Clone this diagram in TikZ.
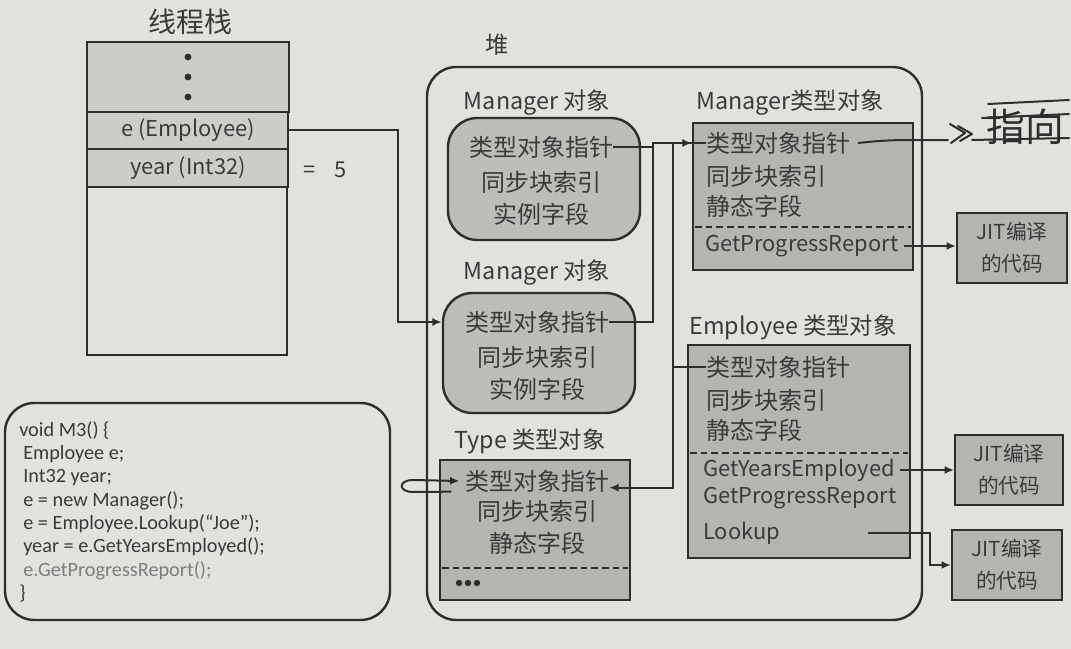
\documentclass[tikz,border=0pt]{standalone}
\usepackage{fontspec}
\setmainfont{Noto Sans CJK SC}
\newfontfamily\codefont{Carlito}
\usetikzlibrary{arrows.meta,fit}
\definecolor{bg}{RGB}{224,226,222}
\definecolor{ink}{RGB}{45,45,45}
\definecolor{txt}{RGB}{58,58,58}
\definecolor{objfill}{RGB}{188,188,185}
\definecolor{typefill}{RGB}{180,180,177}
\definecolor{stackfill}{RGB}{204,205,201}
\definecolor{graytxt}{RGB}{125,125,125}
\begin{document}
\begin{tikzpicture}[x=0.75pt,y=-0.75pt,
  box/.style={draw=ink, line width=1.8pt, inner sep=0pt},
  objbox/.style={box, fill=objfill, rounded corners=22pt},
  typebox/.style={box, fill=typefill},
  cell/.style={font=\fontsize{18}{21}\selectfont, text=txt, inner sep=0pt},
  latcell/.style={font=\fontsize{16.4}{20}\selectfont, text=txt, inner sep=0pt},
  lbl/.style={font=\fontsize{17.5}{21}\selectfont, text=txt, inner sep=0pt},
  jitbox/.style={box, fill=typefill, line width=1.6pt},
  jittext/.style={font=\fontsize{15.5}{24}\selectfont, text=txt, align=center, inner sep=0pt},
  codetext/.style={font=\codefont\fontsize{15.2}{17.5}\selectfont, text=txt, align=left, inner sep=0pt},
  conn/.style={draw=ink, line width=1.5pt},
  arr/.style={conn, -{Latex[length=7pt,width=6pt]}},
  dashsep/.style={draw=ink, line width=1.5pt, dash pattern=on 5pt off 3pt}
]
\fill[bg] (0,0) rectangle (1071,649);
\useasboundingbox (0,0) rectangle (1071,649);

% ---------- thread stack ----------
\node[lbl, font=\fontsize{21}{24}\selectfont] (stitle) at (190,22) {线程栈};
\node[box, fit={(87,187) (287,355)}] (srest) {};
\node[box, fill=stackfill, fit={(87,42) (289,112)}] (sdots) {};
\node[box, fill=stackfill, fit={(87,112) (288,149)}] (ebox) {};
\node[box, fill=stackfill, fit={(87,149) (288,187)}] (ybox) {};
\fill[ink] (188,57) circle[radius=2.6pt] (188,77) circle[radius=2.6pt] (188,97) circle[radius=2.6pt];
\node[latcell] (etxt) at (188,130) {e (Employee)};
\node[latcell] (ytxt) at (188,168) {year (Int32)};
\node[latcell] (yval) at (325,170) {=\hspace{14pt}5};

% ---------- heap ----------
\node[lbl] (htitle) at (497,45) {堆};
\node[box, rounded corners=22pt, fit={(427,67) (922,620)}] (heap) {};

% Manager object 1
\node[lbl] (m1l) at (537,103) {Manager 对象};
\node[objbox, fit={(448,118) (640,240)}] (m1) {};
\node[cell] (m1p) at (541,147) {类型对象指针};
\node[cell] (m1s) at (541,182) {同步块索引};
\node[cell] (m1f) at (541,214) {实例字段};

% Manager object 2
\node[lbl] (m2l) at (537,273) {Manager 对象};
\node[objbox, fit={(443,293) (635,413)}] (m2) {};
\node[cell] (m2p) at (537,322) {类型对象指针};
\node[cell] (m2s) at (537,357) {同步块索引};
\node[cell] (m2f) at (537,389) {实例字段};

% Manager type object
\node[lbl] (mtl) at (790,103) {Manager类型对象};
\node[typebox, fit={(693,123) (913,270)}] (mt) {};
\node[cell, anchor=west] (mtp) at (706,143) {类型对象指针};
\node[cell, anchor=west] (mts) at (706,176) {同步块索引};
\node[cell, anchor=west] (mtf) at (706,206) {静态字段};
\draw[dashsep] (695,227) -- (911,227);
\node[latcell, anchor=west] (mtg) at (705,246) {GetProgressReport};

% Employee type object
\node[lbl] (etl) at (793,327) {Employee 类型对象};
\node[typebox, fit={(688,345) (910,558)}] (et) {};
\node[cell, anchor=west] (etp) at (706,367) {类型对象指针};
\node[cell, anchor=west] (ets) at (706,400) {同步块索引};
\node[cell, anchor=west] (etf) at (706,430) {静态字段};
\draw[dashsep] (690,453) -- (908,453);
\node[latcell, anchor=west] (etg) at (703,470) {GetYearsEmployed};
\node[latcell, anchor=west] (etr) at (703,498) {GetProgressReport};
\node[latcell, anchor=west] (etl2) at (703,533) {Lookup};

% Type type object
\node[lbl] (ttl) at (530,441) {Type 类型对象};
\node[typebox, fit={(440,460) (630,600)}] (tt) {};
\node[cell] (ttp) at (537,481) {类型对象指针};
\node[cell] (tts) at (537,511) {同步块索引};
\node[cell] (ttf) at (537,543) {静态字段};
\draw[dashsep] (442,568) -- (628,568);
\fill[ink] (459,583) circle[radius=2.4pt] (468,583) circle[radius=2.4pt] (477,583) circle[radius=2.4pt];

% JIT boxes
\node[jitbox, fit={(957,213) (1067,283)}] (j1) {};
\node[jittext] (j1t) at (j1) {JIT编译\\的代码};
\node[jitbox, fit={(955,435) (1063,505)}] (j2) {};
\node[jittext] (j2t) at (j2) {JIT编译\\的代码};
\node[jitbox, fit={(952,530) (1062,600)}] (j3) {};
\node[jittext] (j3t) at (j3) {JIT编译\\的代码};

% code box
\node[box, rounded corners=22pt, fit={(5,403) (390,620)}] (codebox) {};
\node[codetext, anchor=north west] (code) at (19,421) {void M3() \{\\
\hspace{3pt}Employee e;\\
\hspace{3pt}Int32 year;\\
\hspace{3pt}e = new Manager();\\
\hspace{3pt}e = Employee.Lookup(“Joe”);\\
\hspace{3pt}year = e.GetYearsEmployed();\\
\hspace{3pt}{\color{graytxt}e.GetProgressReport();}\\
\}};

% ---------- connectors ----------
\coordinate (jn) at (653,143);
\coordinate (vt) at (673,0);
\coordinate (vx) at (398,0);
\coordinate (ttin) at ([yshift=-5pt]ttp.east);
\coordinate (la) at (413,492);
\coordinate (lb) at (413,480);
\coordinate (lk) at (868,533);
\coordinate (lkb) at (930,565);

\draw[arr] (ebox.east) -| (vx |- m2p) -- (m2.west |- m2p);
\draw[arr] (m1p.east) -| (jn) -- (mt.west |- mtp);
\draw[conn] (m2p.east) -| (jn);
\draw[arr] (mtp.west) -| (vt |- ttin) -- (ttin);
\draw[conn] (etp.west) -- (vt |- etp);
\draw[arr] ([xshift=-10pt,yshift=-8pt]ttp.west) -- (la) .. controls (398,492) and (398,480) .. (lb) -- ([xshift=-4pt]ttp.west);
\draw[arr] ([xshift=4pt]mtg.east) -- (j1.west |- mtg.east);
\draw[arr] ([xshift=4pt]etg.east) -- (j2.west |- etg.east);
\draw[arr] (lk) -| (lkb) -- (j3.west);

% handwritten note
\draw[conn, line cap=round] ([xshift=6pt]mtp.east) .. controls (900,138) and (925,141) .. (948,140);
\draw[conn, line cap=round, line join=round] (950,124) -- (965,133) -- (951,143);
\draw[conn, line cap=round, line join=round] (958,126) -- (972,134) -- (960,141);
\node[font=\fontsize{29}{29}\selectfont, text=ink, inner sep=0pt] (hw) at (1025,127) {指向};
\draw[conn, line cap=round] (988,104) -- (1069,100);
\draw[conn, line cap=round] (982,118) -- (1069,114);
\draw[conn, line cap=round] (972,140) -- (1069,138);
\end{tikzpicture}
\end{document}
